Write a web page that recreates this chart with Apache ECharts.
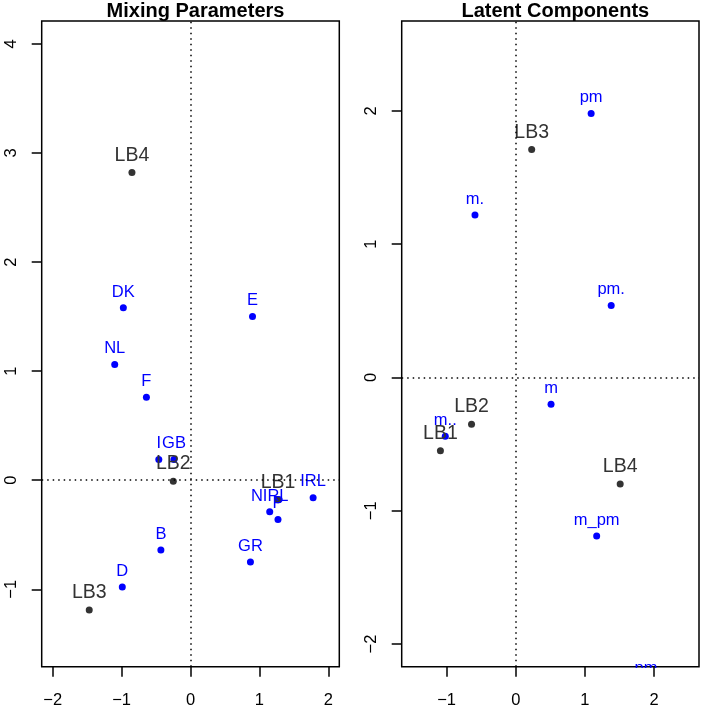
<!DOCTYPE html>
<html>
<head>
<meta charset="utf-8">
<script src="https://cdn.jsdelivr.net/npm/echarts@6/dist/echarts.min.js"></script>
<style>
  html, body { margin: 0; padding: 0; background: #fff; }
  #chart { width: 720px; height: 720px; }
</style>
</head>
<body>
<div id="chart"></div>
<script>
// Mixing parameters (left panel)
const mixLabels = ['LB1', 'LB2', 'LB3', 'LB4', 'B', 'D', 'DK', 'E', 'F', 'GB', 'GR', 'I', 'IRL', 'NIRL', 'NL', 'P'];
const mixX = [1.27, -0.25, -1.47, -0.85, -0.43, -0.99, -0.975, 0.90, -0.64, -0.24, 0.87, -0.46, 1.78, 1.15, -1.10, 1.27];
const mixY = [-0.18, -0.01, -1.19, 2.82, -0.64, -0.98, 1.58, 1.50, 0.76, 0.19, -0.75, 0.19, -0.16, -0.29, 1.06, -0.36];

// Latent components (right panel)
const latLabels = ['LB1', 'LB2', 'LB3', 'LB4', 'm', 'm.', 'm..', 'pm', 'pm.', 'pm..', 'm_pm'];
const latX = [-1.09, -0.64, 0.23, 1.51, 0.51, -0.59, -1.02, 1.09, 1.38, 1.95, 1.17];
const latY = [-0.55, -0.35, 1.71, -0.80, -0.20, 1.22, -0.44, 1.98, 0.54, -2.30, -1.19];

// axis ranges and ticks
const mixXRange = [-2.16, 2.16];
const mixYRange = [-1.71, 4.21];
const latXRange = [-1.65, 2.65];
const latYRange = [-2.17, 2.675];
const mixXTicks = [-2, -1, 0, 1, 2];
const mixYTicks = [-1, 0, 1, 2, 3, 4];
const latXTicks = [-1, 0, 1, 2];
const latYTicks = [-2, -1, 0, 1, 2];

const FONT = 'Liberation Sans, Arial, Helvetica, sans-serif';
const GRAY = '#333333';
const BLUE = '#0000ff';

const fmt = v => String(v).replace('-', '\u2212');

function makeAxis(range, ticks, gridIndex, isY) {
  return {
    type: 'value',
    gridIndex: gridIndex,
    min: range[0],
    max: range[1],
    z: 10,
    axisLine: { show: false, onZero: false },
    splitLine: { show: false },
    axisTick: {
      show: true, length: 10, customValues: ticks,
      lineStyle: { color: '#000', width: 1.5 }
    },
    axisLabel: {
      customValues: ticks,
      formatter: fmt,
      fontFamily: FONT,
      fontSize: 16.5,
      color: '#000',
      margin: isY ? 22 : 25,
      rotate: isY ? 90 : 0
    }
  };
}

function pointData(labels, xs, ys) {
  return labels.map((name, i) => {
    const gray = name.indexOf('LB') === 0;
    return {
      name: name,
      value: [xs[i], ys[i]],
      itemStyle: { color: gray ? GRAY : BLUE, opacity: 1 },
      label: {
        color: gray ? GRAY : BLUE,
        fontSize: gray ? 19.5 : 16.5,
        lineHeight: gray ? 19.5 : 16.5
      }
    };
  });
}

function zeroLines() {
  return {
    silent: true,
    symbol: 'none',
    label: { show: false },
    lineStyle: { color: '#000', type: [1.5, 4], width: 1.5, opacity: 1 },
    data: [{ xAxis: 0 }, { yAxis: 0 }]
  };
}

function scatterSeries(idx, labels, xs, ys) {
  return {
    type: 'scatter',
    xAxisIndex: idx,
    yAxisIndex: idx,
    clip: false,
    z: 2,
    symbolSize: 7,
    itemStyle: { opacity: 1 },
    data: pointData(labels, xs, ys),
    label: {
      show: true,
      position: 'top',
      distance: 4,
      fontFamily: FONT,
      formatter: p => p.name
    },
    markLine: zeroLines()
  };
}

const chart = echarts.init(document.getElementById('chart'), null, { renderer: 'canvas' });

chart.setOption({
  animation: false,
  backgroundColor: '#fff',
  title: [
    {
      text: 'Mixing Parameters', left: 190.5, top: -4, textAlign: 'center',
      textStyle: { fontFamily: FONT, fontSize: 20, fontWeight: 'bold', color: '#000' }
    },
    {
      text: 'Latent Components', left: 550.3, top: -4, textAlign: 'center',
      textStyle: { fontFamily: FONT, fontSize: 20, fontWeight: 'bold', color: '#000' }
    }
  ],
  grid: [
    { left: 41.7, top: 21, width: 297.6, height: 645.7, show: true, borderColor: '#000', borderWidth: 1.5, backgroundColor: 'transparent' },
    { left: 401.7, top: 21, width: 297.3, height: 645.7, show: true, borderColor: '#000', borderWidth: 1.5, backgroundColor: 'transparent' }
  ],
  xAxis: [
    makeAxis(mixXRange, mixXTicks, 0, false),
    makeAxis(latXRange, latXTicks, 1, false)
  ],
  yAxis: [
    makeAxis(mixYRange, mixYTicks, 0, true),
    makeAxis(latYRange, latYTicks, 1, true)
  ],
  // white band under the right panel hides what falls outside the plot box
  graphic: [
    {
      type: 'rect', z: 5,
      shape: { x: 400, y: 668, width: 305, height: 52 },
      style: { fill: '#fff' }
    }
  ],
  series: [
    scatterSeries(0, mixLabels, mixX, mixY),
    scatterSeries(1, latLabels, latX, latY)
  ]
});
</script>
</body>
</html>
